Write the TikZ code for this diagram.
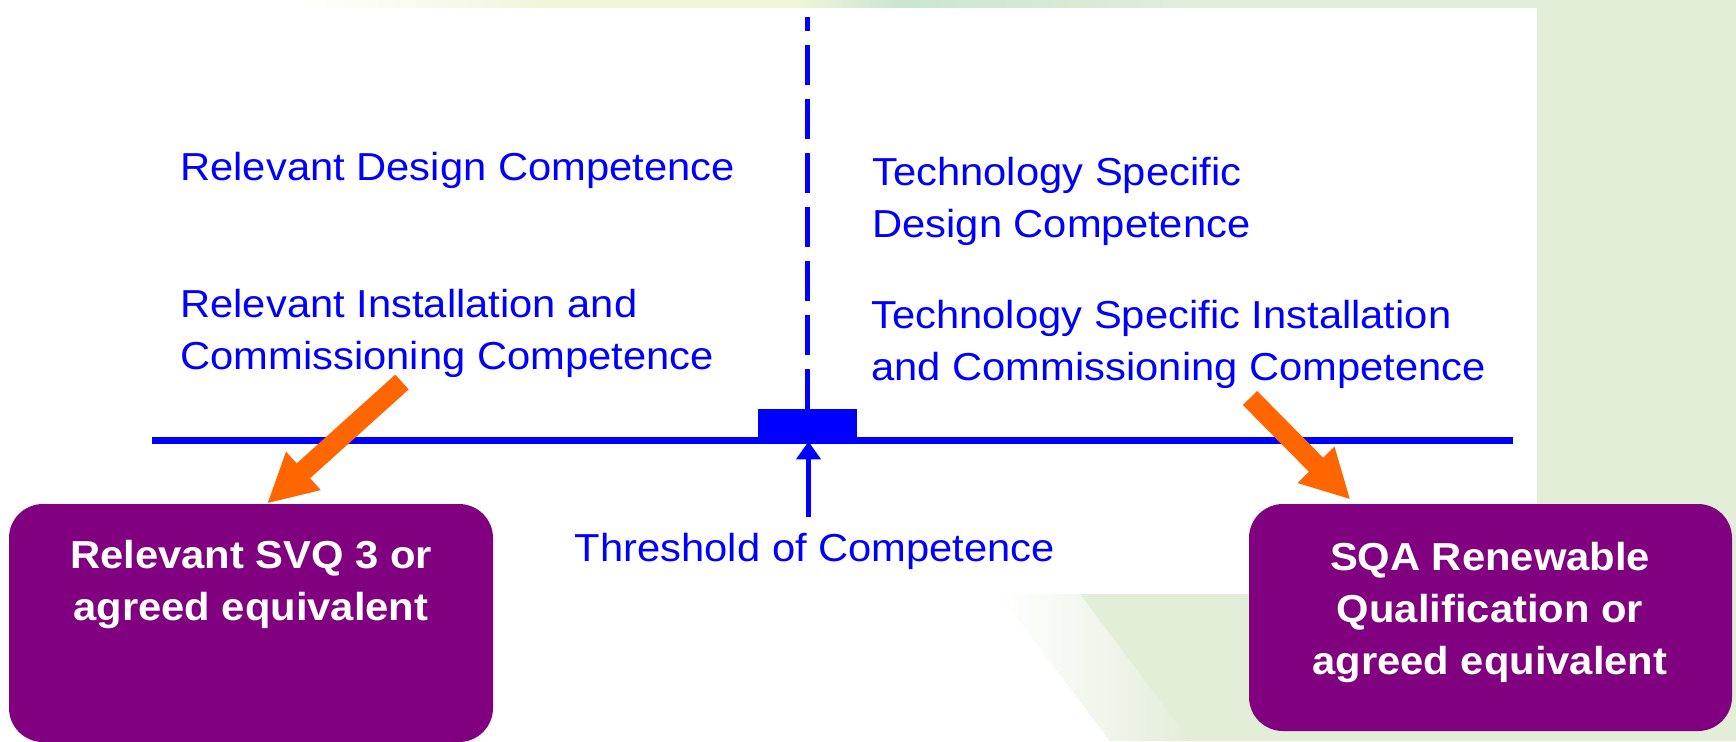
\documentclass[tikz,border=0pt]{standalone}
\usepackage{fontspec}
\setmainfont{Liberation Sans}[FakeStretch=1.07]
\usetikzlibrary{arrows.meta}

\definecolor{thrBlue}{RGB}{0,0,255}
\definecolor{thrPurple}{RGB}{128,0,128}
\definecolor{thrOrange}{RGB}{255,102,0}
\definecolor{thrGreen}{RGB}{227,238,217}
\definecolor{thrPale}{RGB}{240,245,215}
\definecolor{thrMint}{RGB}{200,230,210}

\begin{document}
\begin{tikzpicture}[
    x=0.5pt, y=-0.5pt,
    thrText/.style={text=thrBlue,inner sep=0pt,align=left,anchor=base west,
                    font=\fontsize{19.5}{26}\selectfont},
    thrQualBox/.style={fill=thrPurple,rounded corners=17pt,inner sep=0pt},
    thrQualText/.style={text=white,inner sep=0pt,align=center,anchor=base,
                        font=\bfseries\fontsize{19.5}{26}\selectfont},
    thrPointer/.style={draw=thrOrange,line width=10pt,
                       -{Triangle[length=24.5pt,width=24pt]}},
    thrAxis/.style={draw=thrBlue,line width=3.25pt}]
    \useasboundingbox (0,0) rectangle (1736,741);

    % backdrop: green slide with a white panel
    \fill[thrGreen] (0,0) rectangle (1736,741);
    \fill[white] (0,0) rectangle (300,8);
    \shade[left color=white,right color=thrPale] (300,0) rectangle (560,8);
    \fill[thrPale] (560,0) rectangle (800,8);
    \shade[left color=thrPale,right color=thrMint] (800,0) rectangle (900,8);
    \shade[left color=thrMint,right color=thrGreen] (900,0) rectangle (1200,8);
    \fill[white] (0,8) rectangle (1537,594);
    \fill[white] (0,594) -- (1000,594) -- (1110,741) -- (0,741) -- cycle;
    \shade[left color=white,right color=thrGreen]
        (1000,594) -- (1080,594) -- (1190,741) -- (1110,741) -- cycle;

    % competence axis
    \coordinate (axisL) at (152,440.5);
    \coordinate (axisR) at (1513,440.5);
    \coordinate (dashTop) at (807.5,17);
    \coordinate (thrFoot) at (808.5,517);
    \draw[thrAxis] (axisL) -- (axisR);
    \node[fill=thrBlue,minimum width=49.5pt,minimum height=16pt,inner sep=0pt]
        (thrMark) at (807.5,425) {};
    \draw[draw=thrBlue,line width=2.5pt,dash pattern=on 20pt off 7pt]
        (thrMark.north) -- (dashTop);
    \draw[draw=thrBlue,line width=2.5pt,-{Triangle[length=9pt,width=12pt]}]
        (thrFoot) -- (thrFoot |- thrMark.south);

    % competence labels (base = last line)
    \node[thrText] (relDesign) at (180,180) {Relevant Design Competence};
    \node[thrText] (relInstall) at (180,369)
        {Relevant Installation and\\Commissioning Competence};
    \node[thrText] (techDesign) at (872,237)
        {Technology Specific\\Design Competence};
    \node[thrText] (techInstall) at (871,380)
        {Technology Specific Installation\\and Commissioning Competence};
    \node[thrText,anchor=base] (thrLabel) at (815,561) {Threshold of Competence};

    % qualification boxes
    \node[thrQualBox,minimum width=242pt,minimum height=119pt]
        (svqBox) at (251,623) {};
    \node[thrQualText] (svqText) at (251,620)
        {Relevant SVQ 3 or\\agreed equivalent};
    \node[thrQualBox,minimum width=241.5pt,minimum height=113.5pt]
        (sqaBox) at (1490.5,617.5) {};
    \node[thrQualText] (sqaText) at (1490,674)
        {SQA Renewable\\Qualification or\\agreed equivalent};

    % pointers to the qualifications
    \coordinate (svqTail) at (402,382);
    \coordinate (sqaTail) at (1250,398);
    \draw[thrPointer] (svqTail) -- ([xshift=8pt]svqBox.north);
    \draw[thrPointer] (sqaTail) -- ([xshift=-70pt,yshift=2pt]sqaBox.north);
\end{tikzpicture}
\end{document}
